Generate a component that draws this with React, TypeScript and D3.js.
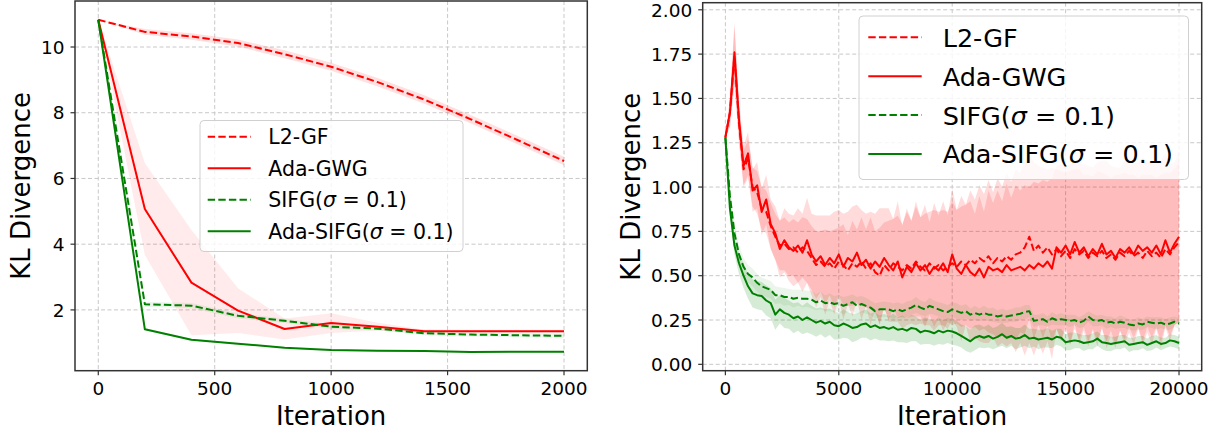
import React from 'react';
import * as d3 from 'd3';

// ---- left panel: 2000 iterations, sampled every 200 ----
const leftIters = [0, 200, 400, 600, 800, 1000, 1200, 1400, 1600, 1800, 2000];
const leftL2gf = [10.83, 10.46, 10.32, 10.12, 9.78, 9.4, 8.93, 8.4, 7.8, 7.17, 6.53];
const leftL2gfStd = [0, 0.09, 0.1, 0.11, 0.12, 0.12, 0.13, 0.13, 0.13, 0.13, 0.13];
const leftAdaGwg = [10.83, 5.07, 2.83, 1.98, 1.42, 1.6, 1.49, 1.35, 1.35, 1.35, 1.35];
const leftAdaGwgStd = [0, 1.4, 1.6, 0.68, 0.32, 0.3, 0.12, 0.05, 0.04, 0.04, 0.04];
const leftSifg = [10.83, 2.17, 2.13, 1.82, 1.67, 1.49, 1.43, 1.29, 1.25, 1.23, 1.21];
const leftSifgStd = [0, 0.08, 0.08, 0.08, 0.07, 0.07, 0.06, 0.06, 0.06, 0.06, 0.06];
const leftAdaSifg = [10.83, 1.41, 1.09, 0.97, 0.85, 0.78, 0.76, 0.75, 0.72, 0.73, 0.73];
const leftAdaSifgStd = [0, 0.03, 0.03, 0.02, 0.02, 0.02, 0.02, 0.02, 0.02, 0.02, 0.02];
const leftXTicks = [0, 500, 1000, 1500, 2000];
const leftYTicks = [2, 4, 6, 8, 10];

// ---- right panel: 20000 iterations, sampled every 200 ----
const rightIters = d3.range(0, 20001, 200);
const rightL2gf = [
  1.28, 1.42, 1.74, 1.36, 1.10, 1.16, 1.00, 0.97, 0.88, 0.86,
  0.78, 0.72, 0.67, 0.68, 0.65, 0.66, 0.63, 0.66, 0.64, 0.60,
  0.56, 0.58, 0.55, 0.57, 0.54, 0.58, 0.56, 0.53, 0.57, 0.55,
  0.58, 0.54, 0.57, 0.52, 0.50, 0.56, 0.53, 0.57, 0.55, 0.53,
  0.56, 0.54, 0.58, 0.55, 0.53, 0.57, 0.54, 0.56, 0.53, 0.55,
  0.57, 0.55, 0.58, 0.56, 0.59, 0.57, 0.60, 0.58, 0.61, 0.57,
  0.60, 0.58, 0.61, 0.59, 0.62, 0.63, 0.66, 0.72, 0.64, 0.67,
  0.63, 0.66, 0.62, 0.65, 0.61, 0.64, 0.60, 0.65, 0.62, 0.64,
  0.60, 0.63, 0.61, 0.64, 0.60, 0.62, 0.59, 0.63, 0.61, 0.64,
  0.61, 0.63, 0.60, 0.64, 0.61, 0.63, 0.60, 0.65, 0.62, 0.66,
  0.69,
];
const rightL2gfStd = [
  0, 0.08, 0.16, 0.11, 0.1, 0.11, 0.11, 0.12, 0.12, 0.12,
  0.13, 0.13, 0.14, 0.15, 0.15, 0.16, 0.17, 0.17, 0.18, 0.18,
  0.19, 0.17, 0.21, 0.18, 0.22, 0.19, 0.23, 0.2, 0.24, 0.21,
  0.25, 0.22, 0.26, 0.23, 0.27, 0.24, 0.28, 0.25, 0.29, 0.26,
  0.3, 0.27, 0.31, 0.28, 0.32, 0.29, 0.33, 0.3, 0.34, 0.31,
  0.35, 0.32, 0.37, 0.34, 0.39, 0.36, 0.41, 0.38, 0.43, 0.4,
  0.45, 0.42, 0.47, 0.44, 0.48, 0.45, 0.49, 0.46, 0.5, 0.45,
  0.48, 0.44, 0.49, 0.45, 0.48, 0.44, 0.49, 0.45, 0.48, 0.43,
  0.47, 0.43, 0.48, 0.44, 0.47, 0.43, 0.48, 0.44, 0.47, 0.43,
  0.46, 0.42, 0.47, 0.43, 0.46, 0.42, 0.47, 0.43, 0.46, 0.44,
  0.45,
];
const rightAdaGwg = [
  1.28, 1.42, 1.76, 1.38, 1.12, 1.19, 0.98, 1.01, 0.86, 0.93,
  0.79, 0.74, 0.65, 0.70, 0.66, 0.64, 0.67, 0.63, 0.70, 0.62,
  0.58, 0.61, 0.56, 0.60, 0.57, 0.62, 0.55, 0.60, 0.58, 0.63,
  0.56, 0.59, 0.54, 0.58, 0.55, 0.60, 0.56, 0.53, 0.58, 0.49,
  0.55, 0.52, 0.57, 0.53, 0.56, 0.51, 0.55, 0.53, 0.57, 0.52,
  0.62, 0.54, 0.51, 0.56, 0.52, 0.50, 0.54, 0.49, 0.55, 0.53,
  0.54, 0.52, 0.56, 0.53, 0.54, 0.55, 0.53, 0.56, 0.54, 0.57,
  0.55, 0.58, 0.54, 0.66, 0.63, 0.67, 0.62, 0.69, 0.63, 0.66,
  0.61, 0.65, 0.62, 0.68, 0.62, 0.64, 0.60, 0.65, 0.63, 0.66,
  0.62, 0.67, 0.64, 0.66, 0.63, 0.67, 0.62, 0.70, 0.63, 0.68,
  0.72,
];
const rightAdaGwgStd = [
  0, 0.08, 0.17, 0.12, 0.11, 0.12, 0.12, 0.13, 0.13, 0.14,
  0.14, 0.15, 0.16, 0.18, 0.19, 0.2, 0.21, 0.22, 0.24, 0.23,
  0.26, 0.23, 0.28, 0.24, 0.29, 0.25, 0.3, 0.26, 0.31, 0.27,
  0.31, 0.26, 0.32, 0.27, 0.33, 0.28, 0.32, 0.29, 0.34, 0.29,
  0.33, 0.29, 0.35, 0.3, 0.34, 0.29, 0.36, 0.31, 0.35, 0.32,
  0.37, 0.33, 0.38, 0.34, 0.4, 0.35, 0.41, 0.37, 0.43, 0.38,
  0.44, 0.4, 0.46, 0.41, 0.47, 0.43, 0.48, 0.44, 0.49, 0.45,
  0.49, 0.45, 0.51, 0.46, 0.5, 0.45, 0.51, 0.46, 0.52, 0.47,
  0.51, 0.46, 0.52, 0.47, 0.53, 0.48, 0.51, 0.46, 0.52, 0.48,
  0.51, 0.47, 0.53, 0.48, 0.52, 0.47, 0.53, 0.49, 0.5, 0.46,
  0.48,
];
const rightSifg = [
  1.28, 0.95, 0.74, 0.62, 0.55, 0.51, 0.49, 0.46, 0.44, 0.43,
  0.42, 0.39, 0.39, 0.38, 0.38, 0.37, 0.375, 0.37, 0.37, 0.365,
  0.35, 0.36, 0.345, 0.35, 0.34, 0.345, 0.33, 0.34, 0.35, 0.33,
  0.34, 0.33, 0.32, 0.30, 0.31, 0.31, 0.31, 0.30, 0.31, 0.30,
  0.31, 0.32, 0.335, 0.32, 0.31, 0.33, 0.32, 0.31, 0.30, 0.295,
  0.31, 0.30, 0.29, 0.30, 0.28, 0.29, 0.28, 0.29, 0.28, 0.28,
  0.27, 0.275, 0.27, 0.275, 0.28, 0.285, 0.295, 0.30, 0.245, 0.25,
  0.255, 0.24, 0.26, 0.25, 0.255, 0.25, 0.245, 0.25, 0.235, 0.245,
  0.27, 0.25, 0.245, 0.25, 0.235, 0.24, 0.23, 0.24, 0.235, 0.225,
  0.22, 0.23, 0.225, 0.24, 0.235, 0.23, 0.235, 0.225, 0.23, 0.24,
  0.23,
];
const rightSifgStd = [
  0, 0.04, 0.05, 0.05, 0.05, 0.05, 0.05, 0.05, 0.05, 0.05,
  0.05, 0.05, 0.045, 0.05, 0.045, 0.05, 0.045, 0.05, 0.045, 0.05,
  0.045, 0.05, 0.045, 0.05, 0.045, 0.045, 0.05, 0.045, 0.045, 0.05,
  0.045, 0.045, 0.04, 0.045, 0.04, 0.045, 0.04, 0.045, 0.04, 0.04,
  0.045, 0.04, 0.045, 0.04, 0.04, 0.045, 0.04, 0.04, 0.045, 0.04,
  0.04, 0.045, 0.04, 0.04, 0.035, 0.04, 0.035, 0.04, 0.035, 0.04,
  0.035, 0.04, 0.035, 0.035, 0.04, 0.035, 0.04, 0.035, 0.035, 0.03,
  0.035, 0.03, 0.035, 0.03, 0.035, 0.03, 0.035, 0.03, 0.03, 0.035,
  0.03, 0.035, 0.03, 0.03, 0.035, 0.03, 0.03, 0.035, 0.03, 0.03,
  0.03, 0.035, 0.03, 0.03, 0.03, 0.035, 0.03, 0.03, 0.035, 0.03,
  0.03,
];
const rightAdaSifg = [
  1.28, 0.88, 0.67, 0.57, 0.50, 0.44, 0.40, 0.39, 0.385, 0.36,
  0.345, 0.28, 0.31, 0.29, 0.28, 0.26, 0.27, 0.25, 0.265, 0.25,
  0.235, 0.245, 0.23, 0.24, 0.22, 0.215, 0.23, 0.22, 0.205, 0.21,
  0.225, 0.23, 0.21, 0.22, 0.205, 0.21, 0.20, 0.21, 0.195, 0.20,
  0.19, 0.205, 0.20, 0.18, 0.19, 0.185, 0.175, 0.19, 0.18, 0.19,
  0.185, 0.175, 0.16, 0.145, 0.13, 0.15, 0.16, 0.15, 0.16, 0.145,
  0.155, 0.17, 0.15, 0.16, 0.145, 0.15, 0.165, 0.145, 0.15, 0.14,
  0.145, 0.15, 0.14, 0.155, 0.15, 0.125, 0.13, 0.135, 0.13, 0.12,
  0.125, 0.13, 0.145, 0.125, 0.12, 0.115, 0.12, 0.125, 0.13, 0.11,
  0.115, 0.12, 0.125, 0.11, 0.12, 0.13, 0.115, 0.12, 0.135, 0.13,
  0.12,
];
const rightAdaSifgStd = [
  0, 0.04, 0.05, 0.06, 0.07, 0.07, 0.08, 0.08, 0.08, 0.085,
  0.085, 0.085, 0.08, 0.085, 0.08, 0.085, 0.08, 0.08, 0.085, 0.08,
  0.08, 0.075, 0.08, 0.075, 0.08, 0.075, 0.08, 0.075, 0.08, 0.075,
  0.075, 0.08, 0.075, 0.075, 0.07, 0.075, 0.07, 0.075, 0.07, 0.075,
  0.07, 0.075, 0.07, 0.07, 0.075, 0.07, 0.07, 0.075, 0.07, 0.07,
  0.075, 0.07, 0.065, 0.07, 0.065, 0.07, 0.065, 0.06, 0.065, 0.06,
  0.06, 0.065, 0.06, 0.055, 0.06, 0.055, 0.06, 0.055, 0.05, 0.055,
  0.05, 0.055, 0.05, 0.045, 0.05, 0.045, 0.05, 0.045, 0.04, 0.045,
  0.04, 0.045, 0.04, 0.04, 0.045, 0.04, 0.035, 0.04, 0.035, 0.04,
  0.035, 0.04, 0.035, 0.035, 0.04, 0.035, 0.035, 0.03, 0.035, 0.035,
  0.035,
];
const rightXTicks = [0, 5000, 10000, 15000, 20000];
const rightYTicks = [0, 0.25, 0.5, 0.75, 1.0, 1.25, 1.5, 1.75, 2.0];

const FONT = 'DejaVu Sans';
const RED = '#ff0000';
const GREEN = '#008000';
const DASH = '7.4,3.2';

type Series = {
  name: string;
  sigma: boolean;
  color: string;
  dashed: boolean;
  mean: number[];
  std: number[];
  alpha: number;
};

type PanelProps = {
  iters: number[];
  series: Series[];
  box: { x0: number; x1: number; y0: number; y1: number };
  xDomain: [number, number];
  yDomain: [number, number];
  xTicks: number[];
  yTicks: number[];
  yFmt: (v: number) => string;
  ylabelX: number;
  legend: { x: number; y: number; w: number; h: number; font: number; row0: number; rowH: number; h0: number; h1: number; tx: number };
};

function Label({ s }: { s: Series }) {
  if (!s.sigma) return <>{s.name}</>;
  return (
    <>
      <tspan>{s.name}(</tspan>
      <tspan fontStyle="italic">σ</tspan>
      <tspan>{' = 0.1)'}</tspan>
    </>
  );
}

function Panel({ iters, series, box, xDomain, yDomain, xTicks, yTicks, yFmt, ylabelX, legend }: PanelProps) {
  const x = d3.scaleLinear().domain(xDomain).range([box.x0, box.x1]);
  const y = d3.scaleLinear().domain(yDomain).range([box.y1, box.y0]);
  const tickFont = 18.5;

  const line = d3
    .line<number>()
    .x((_, i) => x(iters[i]))
    .y((d) => y(d));

  return (
    <g fontFamily={FONT}>
      {/* grid */}
      {xTicks.map((t) => (
        <line key={'gx' + t} x1={x(t)} x2={x(t)} y1={box.y0} y2={box.y1} stroke="#c8c8c8" strokeWidth={1} strokeDasharray="4,2.5" />
      ))}
      {yTicks.map((t) => (
        <line key={'gy' + t} x1={box.x0} x2={box.x1} y1={y(t)} y2={y(t)} stroke="#c8c8c8" strokeWidth={1} strokeDasharray="4,2.5" />
      ))}

      {/* std bands */}
      {series.map((s) => {
        const area = d3
          .area<number>()
          .x((_, i) => x(iters[i]))
          .y0((d, i) => y(d - s.std[i]))
          .y1((d, i) => y(d + s.std[i]));
        return <path key={'b' + s.name + s.sigma} d={area(s.mean) || ''} fill={s.color} fillOpacity={s.alpha} stroke="none" />;
      })}

      {/* mean lines */}
      {series.map((s) => (
        <path
          key={'l' + s.name + s.sigma}
          d={line(s.mean) || ''}
          fill="none"
          stroke={s.color}
          strokeWidth={2}
          strokeLinejoin="round"
          strokeDasharray={s.dashed ? DASH : undefined}
        />
      ))}

      {/* frame */}
      <rect x={box.x0} y={box.y0} width={box.x1 - box.x0} height={box.y1 - box.y0} fill="none" stroke="#333" strokeWidth={1.5} />

      {/* ticks */}
      {xTicks.map((t) => (
        <g key={'tx' + t}>
          <line x1={x(t)} x2={x(t)} y1={box.y1} y2={box.y1 + 4.5} stroke="#333" strokeWidth={1.2} />
          <text x={x(t)} y={box.y1 + 24.5} fontSize={tickFont} textAnchor="middle" fill="#000">
            {t}
          </text>
        </g>
      ))}
      {yTicks.map((t) => (
        <g key={'ty' + t}>
          <line x1={box.x0 - 4.5} x2={box.x0} y1={y(t)} y2={y(t)} stroke="#333" strokeWidth={1.2} />
          <text x={box.x0 - 10.5} y={y(t) + 6.7} fontSize={tickFont} textAnchor="end" fill="#000">
            {yFmt(t)}
          </text>
        </g>
      ))}

      {/* axis labels */}
      <text x={(box.x0 + box.x1) / 2} y={425} fontSize={26} textAnchor="middle" fill="#000">
        Iteration
      </text>
      <text
        transform={`translate(${ylabelX},${(box.y0 + box.y1) / 2}) rotate(-90)`}
        fontSize={26}
        textAnchor="middle"
        fill="#000"
      >
        KL Divergence
      </text>

      {/* legend */}
      <rect x={legend.x} y={legend.y} width={legend.w} height={legend.h} rx={4} fill="#fff" fillOpacity={0.8} stroke="#d0d0d0" strokeWidth={1} />
      {series.map((s, i) => {
        const cy = legend.row0 + i * legend.rowH;
        return (
          <g key={'lg' + i}>
            <line x1={legend.h0} x2={legend.h1} y1={cy} y2={cy} stroke={s.color} strokeWidth={2} strokeDasharray={s.dashed ? DASH : undefined} />
            <text x={legend.tx} y={cy + legend.font * 0.37} fontSize={legend.font} fill="#000">
              <Label s={s} />
            </text>
          </g>
        );
      })}
    </g>
  );
}

export default function App() {
  const leftSeries: Series[] = [
    { name: 'L2-GF', sigma: false, color: RED, dashed: true, mean: leftL2gf, std: leftL2gfStd, alpha: 0.12 },
    { name: 'Ada-GWG', sigma: false, color: RED, dashed: false, mean: leftAdaGwg, std: leftAdaGwgStd, alpha: 0.08 },
    { name: 'SIFG', sigma: true, color: GREEN, dashed: true, mean: leftSifg, std: leftSifgStd, alpha: 0.08 },
    { name: 'Ada-SIFG', sigma: true, color: GREEN, dashed: false, mean: leftAdaSifg, std: leftAdaSifgStd, alpha: 0.1 },
  ];
  const rightSeries: Series[] = [
    { name: 'L2-GF', sigma: false, color: RED, dashed: true, mean: rightL2gf, std: rightL2gfStd, alpha: 0.14 },
    { name: 'Ada-GWG', sigma: false, color: RED, dashed: false, mean: rightAdaGwg, std: rightAdaGwgStd, alpha: 0.14 },
    { name: 'SIFG', sigma: true, color: GREEN, dashed: true, mean: rightSifg, std: rightSifgStd, alpha: 0.08 },
    { name: 'Ada-SIFG', sigma: true, color: GREEN, dashed: false, mean: rightAdaSifg, std: rightAdaSifgStd, alpha: 0.16 },
  ];

  return (
    <svg width={1218} height={434} style={{ position: 'absolute', left: 0, top: 0, background: '#fff' }}>
      <Panel
        iters={leftIters}
        series={leftSeries}
        box={{ x0: 75, x1: 587.3, y0: 1, y1: 370.7 }}
        xDomain={[-100, 2100]}
        yDomain={[0.15, 11.4]}
        xTicks={leftXTicks}
        yTicks={leftYTicks}
        yFmt={(v) => String(v)}
        ylabelX={30}
        legend={{ x: 200, y: 120.5, w: 263, h: 131, font: 20.5, row0: 136.7, rowH: 31.5, h0: 207.7, h1: 250.7, tx: 268.3 }}
      />
      <Panel
        iters={rightIters}
        series={rightSeries}
        box={{ x0: 702.7, x1: 1201.7, y0: 2.7, y1: 370.7 }}
        xDomain={[-1000, 21000]}
        yDomain={[-0.036, 2.04]}
        xTicks={rightXTicks}
        yTicks={rightYTicks}
        yFmt={d3.format('.2f')}
        ylabelX={640}
        legend={{ x: 859, y: 16, w: 329.5, h: 163.5, font: 25.5, row0: 37.3, rowH: 38.9, h0: 868.3, h1: 921.7, tx: 942.7 }}
      />
    </svg>
  );
}
